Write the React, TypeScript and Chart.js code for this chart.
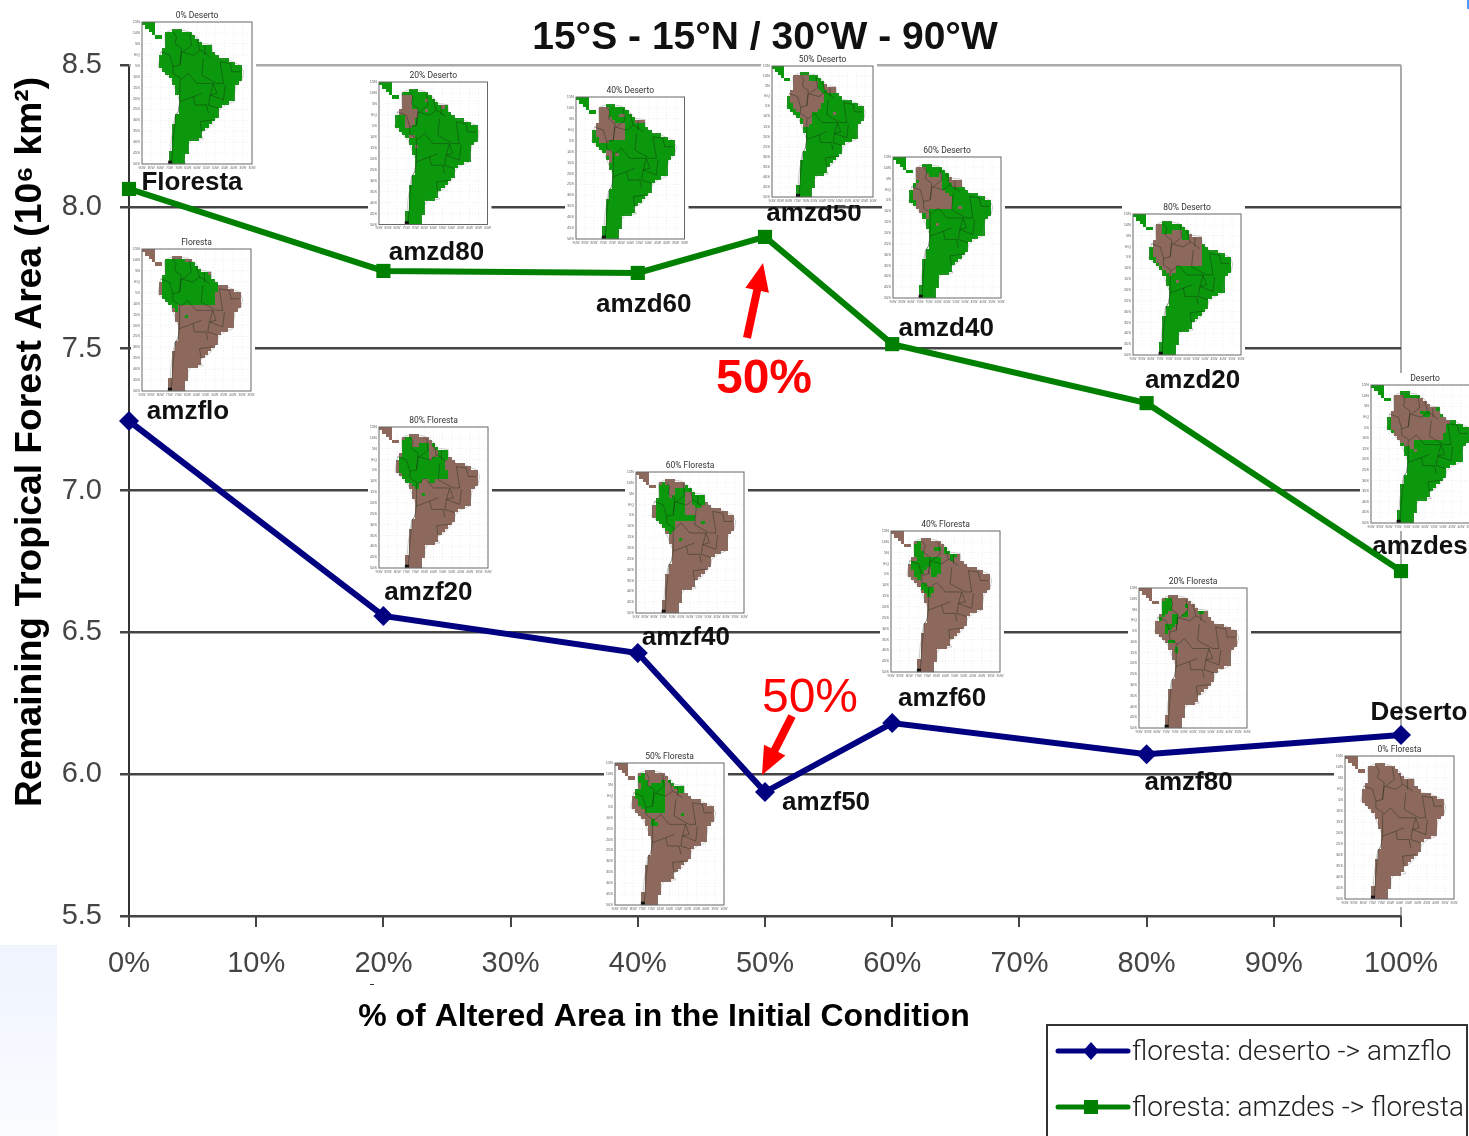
import React, { useEffect, useRef } from "react";
import { Chart, registerables } from "chart.js";

Chart.register(...registerables);

// ---- data ----
const alteredPercent = [0, 20, 40, 50, 60, 80, 100];
const florestaFromDeserto = [7.245, 6.558, 6.427, 5.937, 6.18, 6.07, 6.138];
const florestaFromAmzdes = [8.063, 7.774, 7.767, 7.894, 7.516, 7.308, 6.716];
const blueNames = ["amzflo", "amzf20", "amzf40", "amzf50", "amzf60", "amzf80", "Deserto"];
const greenNames = ["Floresta", "amzd80", "amzd60", "amzd50", "amzd40", "amzd20", "amzdes"];
const seriesLabels = ["floresta: deserto -> amzflo", "floresta: amzdes -> floresta"];
const chartTitle = "15°S - 15°N / 30°W - 90°W";
const yAxisTitle = "Remaining Tropical Forest Area (10⁶ km²)";
const xAxisTitle = "% of Altered Area in the Initial Condition";

// ---- label offsets from their points ----
const blueOffsets = [[59, -9], [45, -23], [48, -15], [61, 11], [50, -24], [42, 29], [18, -22]];
const greenOffsets = [[63, -6], [53, -18], [6, 32], [49, -23], [54, -15], [46, -22], [19, -24]];

const NAVY = "#000080";
const GREEN = "#008000";
const RED = "#ff0000";
const MAP_GREEN = "#0c980c";
const MAP_BROWN = "#8c695c";
const SANS = "'Liberation Sans', Arial, sans-serif";
const THIN = "Roboto, 'Liberation Sans', sans-serif";

// ---- map shape (unit: crop pixels of a 328x428 frame, origin 52,50) ----
const LAND = [120,85,130,78,150,72,190,78,215,95,232,115,260,118,262,140,285,160,310,165,345,180,355,200,350,225,332,240,325,290,300,300,282,315,278,335,250,370,225,385,235,402,200,405,190,420,190,440,175,455,182,478,130,478,135,460,140,400,150,335,160,320,165,290,140,225,118,200,100,185,108,140,122,130];
const CENTRAL = [52,50,90,50,90,90,78,78,70,68,52,60];
const ISLET = [90,86,108,86,108,98,90,98];
const BORDERS = [
  [145,80,155,95,150,115,170,130,165,180],
  [195,85,200,120,175,140],
  [215,100,225,135],
  [240,120,240,150],
  [255,155,235,140,225,135,205,150,170,140,165,180,145,185,145,205,170,222,190,205,215,235,265,235,275,265,255,270,250,300,280,310],
  [108,140,135,150,145,185],
  [165,222,165,290,160,320,150,335],
  [165,290,205,275,230,265],
  [205,275,210,300,245,300,250,325],
  [225,350,265,345],
  [225,350,230,380],
  [152,335,145,400,140,478],
  [235,160,230,210,275,235,295,235,285,170],
  [285,170,315,175,320,200,345,200],
  [265,235,255,270,295,285,300,240],
];
const FOREST = [120,70,215,80,232,110,262,120,290,145,275,160,272,212,200,212,190,205,165,210,165,235,145,215,115,205,105,135,120,120];

type Inset = {
  title: string; x: number; y: number; w: number; h: number; base: string; other: string;
  crop: number[]; patches: number[][]; holes?: number[][];
};
const FULL = [52, 42, 378, 468];
const insets: Inset[] = [
  { title: "0% Deserto", x: 142, y: 22, w: 110, h: 142, base: MAP_GREEN, other: MAP_BROWN, crop: FULL, patches: [] },
  { title: "Floresta", x: 142, y: 249, w: 109, h: 142, base: MAP_BROWN, other: MAP_GREEN, crop: FULL,
    patches: [FOREST, [178,237,190,237,190,249,178,249]] },
  { title: "20% Deserto", x: 379, y: 82, w: 108.5, h: 142.5, base: MAP_GREEN, other: MAP_BROWN, crop: [42,50,367,478],
    patches: [[108,90,135,90,140,130,160,130,160,150,150,170,135,185,118,185,120,155,100,145,108,120],[180,100,190,100,190,110,180,110],[182,125,190,125,190,135,182,135],[222,112,240,112,240,132,228,132],[130,210,148,210,148,220,130,220],[150,235,158,235,158,247,150,247]] },
  { title: "40% Deserto", x: 576, y: 97, w: 108.5, h: 142, base: MAP_GREEN, other: MAP_BROWN, crop: [632,95,958,522],
    patches: [[700,125,728,125,728,150,750,165,755,170,775,170,780,225,745,228,745,215,720,238,705,238,695,215,690,185,700,170],[760,143,780,143,780,155,760,155],[805,155,840,155,840,175,815,178],[720,255,740,255,745,295,735,295,730,275,720,270],[750,265,760,265,760,278,750,278]] },
  { title: "50% Deserto", x: 772, y: 66, w: 101, h: 131, base: MAP_GREEN, other: MAP_BROWN, crop: [35,48,338,440],
    patches: [[97,75,105,75,105,72,145,72,145,95,170,95,170,120,195,135,185,165,165,185,150,185,150,215,140,235,130,230,115,185,95,160,90,130,100,120],[190,105,225,105,230,135,205,130,190,120],[218,183,228,183,228,193,218,193],[142,205,153,205,153,217,142,217]] },
  { title: "60% Deserto", x: 893, y: 157, w: 108, h: 141, base: MAP_GREEN, other: MAP_BROWN, crop: [400,322,723,745],
    patches: [[465,355,498,348,505,385,545,372,550,420,580,445,578,475,510,478,510,515,495,495,470,480,460,440,455,410,475,400],[570,385,610,385,610,405,585,410,570,395],[597,468,608,468,608,480,597,480],[527,515,538,515,538,527,527,527]] },
  { title: "80% Deserto", x: 1133, y: 214, w: 108, h: 141, base: MAP_GREEN, other: MAP_BROWN, crop: [40,43,364,465],
    patches: [[108,75,130,75,135,110,165,95,185,95,195,130,215,100,245,110,248,150,245,198,200,205,170,198,155,235,125,205,100,170,95,130,110,110],[168,238,178,238,178,248,168,248]] },
  { title: "Deserto", x: 1371, y: 385, w: 108, h: 138, base: MAP_GREEN, other: MAP_BROWN, crop: [752,555,1077,970],
    patches: [[820,600,828,580,850,590,910,595,945,615,960,650,990,660,965,715,895,720,885,715,880,745,860,740,818,710,810,640],[878,745,888,745,888,757,878,757]],
    holes: [[900,628,925,628,925,650,910,650,900,640]] },
  { title: "80% Floresta", x: 379, y: 427, w: 109, h: 141, base: MAP_BROWN, other: MAP_GREEN, crop: [42,35,370,458],
    patches: [[108,80,125,65,140,65,140,100,170,85,190,85,195,130,215,125,240,125,250,190,215,195,205,205,170,190,155,230,140,205,110,190,100,130,110,120],[200,75,250,98,255,140,225,120,205,95],[170,230,180,230,180,242,170,242]] },
  { title: "60% Floresta", x: 636, y: 472, w: 108, h: 141, base: MAP_BROWN, other: MAP_GREEN, crop: [813,172,1138,595],
    patches: [[880,215,905,198,915,255,940,220,960,220,965,300,990,295,985,318,930,318,925,365,905,345,880,325,868,295,870,260,885,250],[985,235,1022,235,1022,260,1000,280,985,275],[965,210,980,210,980,235,965,235],[1010,318,1022,318,1022,330,1010,330],[940,367,952,367,952,378,940,378]] },
  { title: "40% Floresta", x: 891, y: 531, w: 109, h: 141, base: MAP_BROWN, other: MAP_GREEN, crop: [63,48,390,472],
    patches: [[130,90,150,75,160,125,135,132],[160,125,215,125,213,180,180,185,175,140,165,170,145,195,130,180,120,145,135,135],[190,100,212,100,212,110,190,110],[222,88,232,88,232,118,222,118],[235,112,262,112,250,135,240,130],[150,208,170,208,192,222,180,245,170,235,155,222]] },
  { title: "20% Floresta", x: 1139, y: 588, w: 108, h: 140, base: MAP_BROWN, other: MAP_GREEN, crop: [808,220,1132,640],
    patches: [[875,260,902,245,905,280,885,305,875,305],[912,295,922,295,922,325,905,350,885,355,885,330,905,325],[862,305,875,305,875,318,862,318],[945,268,955,268,955,280,945,280],[945,292,955,292,955,305,935,315],[985,285,1005,285,1000,300,985,303],[895,378,915,378,915,388,895,388],[912,400,922,400,922,412,912,412]] },
  { title: "50% Floresta", x: 615, y: 763, w: 109, h: 142, base: MAP_BROWN, other: MAP_GREEN, crop: [45,250,372,677],
    patches: [[112,288,135,280,145,320,190,300,195,355,190,395,150,400,120,385,105,345,100,340,125,325],[205,290,215,310,255,315,245,345,225,325,205,310],[150,410,175,430,155,445],[243,398,255,398,255,412,243,412]] },
  { title: "0% Floresta", x: 1345, y: 756, w: 109, h: 143, base: MAP_BROWN, other: MAP_GREEN, crop: FULL, patches: [] },
];

const MAP_Y = ["15N","10N","5N","EQ","5S","10S","15S","20S","25S","30S","35S","40S","45S","50S"];
const MAP_X = ["90W","85W","80W","75W","70W","65W","60W","55W","50W","45W","40W","35W","30W"];

function inPoly(px: number, py: number, poly: number[]) {
  let inside = false;
  for (let i = 0, j = poly.length - 2; i < poly.length; j = i, i += 2) {
    const xi = poly[i], yi = poly[i + 1], xj = poly[j], yj = poly[j + 1];
    if (yi > py !== yj > py && px < ((xj - xi) * (py - yi)) / (yj - yi) + xi) inside = !inside;
  }
  return inside;
}

function drawInset(ctx: CanvasRenderingContext2D, m: Inset) {
  const { x, y, w, h } = m;
  ctx.save();
  ctx.fillStyle = "#fff";
  ctx.fillRect(x - 11, y - 12, w + 15, h + 20);

  ctx.font = `8.5px ${THIN}`;
  ctx.fillStyle = "#333";
  ctx.textAlign = "center";
  ctx.textBaseline = "middle";
  ctx.fillText(m.title, x + w / 2, y - 6.5);

  // tiny axis labels
  ctx.font = `4px ${SANS}`;
  ctx.fillStyle = "#666";
  ctx.textAlign = "right";
  MAP_Y.forEach((t, i) => ctx.fillText(t, x - 2, y + (h * i) / (MAP_Y.length - 1)));
  ctx.textAlign = "center";
  ctx.font = `3.4px ${SANS}`;
  MAP_X.forEach((t, i) => ctx.fillText(t, x + (w * i) / (MAP_X.length - 1), y + h + 4));

  // dotted graticule
  ctx.strokeStyle = "#e4e4e4";
  ctx.lineWidth = 0.6;
  ctx.setLineDash([1, 2]);
  for (let i = 1; i < MAP_X.length - 1; i++) {
    const gx = x + (w * i) / (MAP_X.length - 1);
    ctx.beginPath(); ctx.moveTo(gx, y); ctx.lineTo(gx, y + h); ctx.stroke();
  }
  for (let i = 1; i < MAP_Y.length - 1; i++) {
    const gy = y + (h * i) / (MAP_Y.length - 1);
    ctx.beginPath(); ctx.moveTo(x, gy); ctx.lineTo(x + w, gy); ctx.stroke();
  }
  ctx.setLineDash([]);

  const px = (cx: number) => x + ((cx - 52) / 328) * w;
  const py = (cy: number) => y + ((cy - 50) / 428) * h;

  // blocky cells
  const cols = 33, rows = 43;
  const cw = w / cols, ch = h / rows;
  const [cx0, cy0, cx1, cy1] = m.crop;
  for (let r = 0; r < rows; r++) {
    for (let c = 0; c < cols; c++) {
      const u = (c + 0.5) / cols, v = (r + 0.5) / rows;
      const lx = 52 + u * 328, ly = 50 + v * 428;
      const land = inPoly(lx, ly, LAND) || inPoly(lx, ly, CENTRAL) || inPoly(lx, ly, ISLET);
      if (!land) continue;
      const zx = cx0 + u * (cx1 - cx0), zy = cy0 + v * (cy1 - cy0);
      let color = m.base;
      if (m.patches.some((p) => inPoly(zx, zy, p))) color = m.other;
      if (m.holes && m.holes.some((p) => inPoly(zx, zy, p))) color = m.base;
      ctx.fillStyle = color;
      const x0 = Math.round(x + c * cw), x1 = Math.round(x + (c + 1) * cw);
      const y0 = Math.round(y + r * ch), y1 = Math.round(y + (r + 1) * ch);
      ctx.fillRect(x0, y0, x1 - x0, y1 - y0);
    }
  }

  const strokePoly = (pts: number[], close: boolean) => {
    ctx.beginPath();
    for (let i = 0; i < pts.length; i += 2) {
      if (i === 0) ctx.moveTo(px(pts[i]), py(pts[i + 1]));
      else ctx.lineTo(px(pts[i]), py(pts[i + 1]));
    }
    if (close) ctx.closePath();
    ctx.stroke();
  };
  ctx.strokeStyle = "rgba(120,120,120,0.55)";
  ctx.lineWidth = 0.7;
  strokePoly(LAND, true);
  ctx.strokeStyle = "rgba(20,35,20,0.65)";
  ctx.lineWidth = 0.6;
  BORDERS.forEach((b) => strokePoly(b, false));
  ctx.fillStyle = "#111";
  ctx.fillRect(px(130), py(468), 4, 3);

  ctx.strokeStyle = "#666";
  ctx.lineWidth = 1;
  ctx.strokeRect(x, y, w, h);
  ctx.restore();
}

function arrow(ctx: CanvasRenderingContext2D, tx: number, ty: number, fx: number, fy: number) {
  const a = Math.atan2(ty - fy, tx - fx);
  const len = 28, hw = 12, sw = 4;
  const bx = tx - len * Math.cos(a), by = ty - len * Math.sin(a);
  const nx = -Math.sin(a), ny = Math.cos(a);
  ctx.fillStyle = RED;
  ctx.beginPath();
  ctx.moveTo(tx, ty);
  ctx.lineTo(bx + nx * hw, by + ny * hw);
  ctx.lineTo(bx + nx * sw, by + ny * sw);
  ctx.lineTo(fx + nx * sw, fy + ny * sw);
  ctx.lineTo(fx - nx * sw, fy - ny * sw);
  ctx.lineTo(bx - nx * sw, by - ny * sw);
  ctx.lineTo(bx - nx * hw, by - ny * hw);
  ctx.closePath();
  ctx.fill();
}

const decorations = {
  id: "decorations",
  beforeDraw(chart: any) {
    const ctx = chart.ctx as CanvasRenderingContext2D;
    ctx.save();
    const g = ctx.createLinearGradient(0, 945, 0, 1136);
    g.addColorStop(0, "#eff4fe");
    g.addColorStop(1, "#fafcff");
    ctx.fillStyle = g;
    ctx.fillRect(0, 945, 57, 191);
    ctx.fillStyle = "#4c9bff";
    ctx.fillRect(1467, 0, 2, 9);
    ctx.restore();
  },
  beforeDatasetsDraw(chart: any) {
    const ctx = chart.ctx as CanvasRenderingContext2D;
    const xs = chart.scales.x, ys = chart.scales.y;
    ctx.save();
    ctx.font = `bold 26px ${SANS}`;
    ctx.fillStyle = "#111";
    ctx.textAlign = "center";
    ctx.textBaseline = "middle";
    alteredPercent.forEach((p, i) => {
      ctx.fillText(blueNames[i], xs.getPixelForValue(p) + blueOffsets[i][0], ys.getPixelForValue(florestaFromDeserto[i]) + blueOffsets[i][1]);
      ctx.fillText(greenNames[i], xs.getPixelForValue(p) + greenOffsets[i][0], ys.getPixelForValue(florestaFromAmzdes[i]) + greenOffsets[i][1]);
    });
    ctx.restore();
    insets.forEach((m) => drawInset(ctx, m));
  },
  afterDatasetsDraw(chart: any) {
    const ctx = chart.ctx as CanvasRenderingContext2D;
    const xs = chart.scales.x, ys = chart.scales.y;
    const x50 = xs.getPixelForValue(50);
    const yGreen = ys.getPixelForValue(florestaFromAmzdes[3]);
    const yBlue = ys.getPixelForValue(florestaFromDeserto[3]);
    ctx.save();
    arrow(ctx, x50 - 2, yGreen + 26, x50 - 18, yGreen + 101);
    arrow(ctx, x50 - 3, yBlue - 17, x50 + 27, yBlue - 76);
    ctx.fillStyle = RED;
    ctx.textAlign = "center";
    ctx.textBaseline = "middle";
    ctx.font = `bold 48px ${SANS}`;
    ctx.fillText("50%", 764, 380);
    ctx.font = `48px ${SANS}`;
    ctx.fillText("50%", 810, 699);

    // axis titles
    ctx.fillStyle = "#000";
    ctx.font = `bold 32px ${SANS}`;
    ctx.fillText(xAxisTitle, 664, 1017);
    ctx.save();
    ctx.translate(31, 442);
    ctx.rotate(-Math.PI / 2);
    ctx.font = `bold 37.2px ${SANS}`;
    ctx.fillText(yAxisTitle, 0, 0);
    ctx.restore();
    ctx.fillStyle = "#333";
    ctx.fillRect(370, 984, 4, 1);

    // legend
    ctx.strokeStyle = "#333";
    ctx.lineWidth = 2;
    ctx.strokeRect(1047, 1025, 420, 200);
    const rows = [[1051, NAVY], [1107, GREEN]] as [number, string][];
    rows.forEach(([ly, color], i) => {
      ctx.strokeStyle = color;
      ctx.lineWidth = 5;
      ctx.lineCap = "round";
      ctx.beginPath(); ctx.moveTo(1058, ly); ctx.lineTo(1128, ly); ctx.stroke();
      ctx.lineCap = "butt";
      ctx.fillStyle = color;
      if (i === 0) {
        ctx.beginPath();
        ctx.moveTo(1091, ly - 9); ctx.lineTo(1099, ly); ctx.lineTo(1091, ly + 9); ctx.lineTo(1083, ly);
        ctx.closePath(); ctx.fill();
      } else {
        ctx.fillRect(1084, ly - 7, 14, 14);
      }
      ctx.fillStyle = "#222";
      ctx.textAlign = "left";
      ctx.font = `300 28px ${THIN}`;
      ctx.fillText(seriesLabels[i], 1132, ly + 2);
    });
    ctx.restore();
  },
};

export default function App() {
  const ref = useRef<HTMLCanvasElement>(null);
  useEffect(() => {
    const chart = new Chart(ref.current as HTMLCanvasElement, {
      type: "line",
      data: {
        datasets: [
          {
            label: seriesLabels[0],
            data: alteredPercent.map((p, i) => ({ x: p, y: florestaFromDeserto[i] })),
            borderColor: NAVY, backgroundColor: NAVY, borderWidth: 6,
            pointStyle: "rectRot", pointRadius: 10, pointBorderWidth: 0, tension: 0, clip: false,
          },
          {
            label: seriesLabels[1],
            data: alteredPercent.map((p, i) => ({ x: p, y: florestaFromAmzdes[i] })),
            borderColor: GREEN, backgroundColor: GREEN, borderWidth: 6,
            pointStyle: "rect", pointRadius: 10, pointBorderWidth: 0, tension: 0, clip: false,
          },
        ],
      },
      options: {
        responsive: false,
        animation: false,
        layout: { padding: { right: 68, left: 0, top: 0, bottom: 0 } },
        plugins: {
          legend: { display: false },
          tooltip: { enabled: false },
          title: {
            display: true, text: chartTitle, fullSize: false, color: "#111",
            font: { family: SANS, size: 39, weight: "bold", lineHeight: 1.2 },
            padding: { top: 15, bottom: 3.2 },
          },
        },
        scales: {
          x: {
            type: "linear", min: 0, max: 100,
            afterFit: (s: any) => { s.height = 220; },
            border: { display: false },
            grid: {
              color: (c: any) => (c.tick.value === 0 ? "#333" : c.tick.value === 100 ? "#aaa" : "rgba(0,0,0,0)"),
              tickColor: "#444", lineWidth: 2, tickLength: 11,
            },
            ticks: {
              stepSize: 10, autoSkip: false, maxRotation: 0, padding: 20, color: "#444",
              font: { family: SANS, size: 29 },
              callback: (v: any) => `${v}%`,
            },
          },
          y: {
            type: "linear", min: 5.5, max: 8.5,
            afterFit: (s: any) => { s.width = 129; },
            border: { display: false },
            grid: {
              color: (c: any) => (c.tick.value === 8.5 ? "#aaa" : "#444"),
              tickColor: "#444", lineWidth: 2.5, tickLength: 9,
            },
            ticks: {
              stepSize: 0.5, padding: 18, color: "#444",
              font: { family: SANS, size: 29 },
              callback: (v: any) => Number(v).toFixed(1),
            },
          },
        },
      },
      plugins: [decorations],
    } as any);
    return () => chart.destroy();
  }, []);
  return (
    <div style={{ position: "absolute", left: 0, top: 0, width: 1469, height: 1136, overflow: "hidden", background: "#fff" }}>
      <canvas ref={ref} width={1469} height={1136} style={{ display: "block" }} />
    </div>
  );
}
